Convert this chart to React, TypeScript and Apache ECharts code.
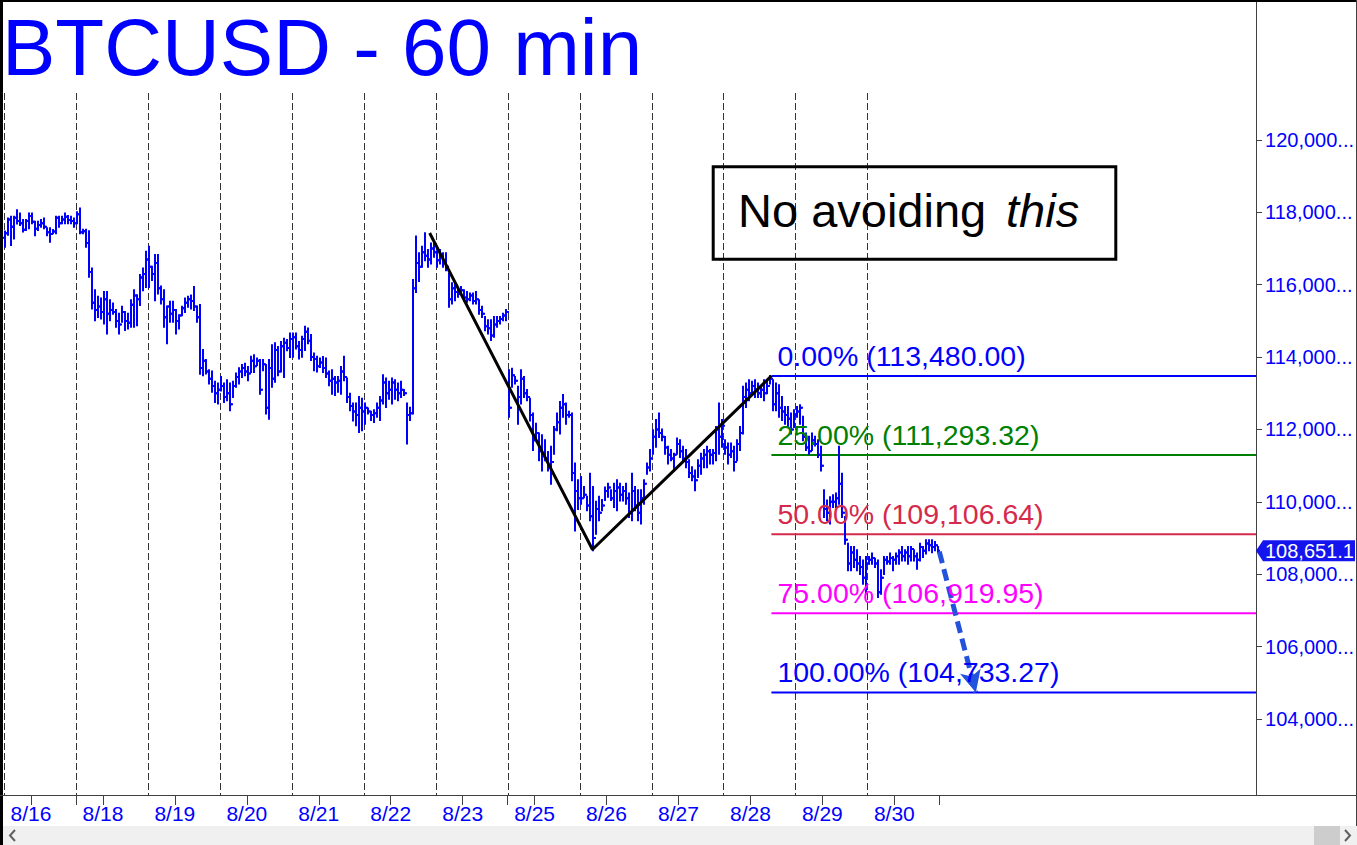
import React, { useEffect, useRef } from "react";
import * as echarts from "echarts";

// ---- Hourly bars, one array per session day: [high, low, close] ----
const aug16 = [
  [117470, 117050, 117420], [117830, 117380, 117800], [117880, 117100, 117600], [117880, 117280, 117850],
  [118060, 117690, 117760], [117970, 117650, 117700], [117790, 117470, 117520], [117790, 117510, 117760],
  [117970, 117560, 117900], [117970, 117700, 117740], [117740, 117370, 117550], [117740, 117510, 117650],
  [117790, 117600, 117700], [117830, 117560, 117600], [117560, 117370, 117450], [117560, 117190, 117400],
  [117510, 117420, 117470], [117880, 117420, 117850], [117880, 117600, 117700], [117880, 117700, 117800],
  [117970, 117700, 117880], [117900, 117700, 117790], [117880, 117700, 117760], [117830, 117600, 117700],
];
const aug18 = [
  [118000, 117700, 117950], [118110, 117420, 117450], [117520, 117420, 117480], [117520, 117050, 117150],
  [117480, 116220, 116350], [116450, 115340, 115500], [115850, 115020, 115300], [115670, 115110, 115400],
  [115620, 115070, 115250], [115800, 114930, 115600], [115800, 114650, 115200], [115570, 115020, 115300],
  [115480, 115200, 115250], [115300, 114840, 115000], [115200, 114650, 114900], [115390, 114980, 115250],
  [115250, 114750, 115000], [115200, 114790, 114950], [115570, 114840, 115450], [115850, 114840, 115700],
  [115710, 114880, 115600], [116270, 115440, 116200], [116450, 115850, 116300], [116910, 115940, 116700],
];
const aug19 = [
  [117050, 115940, 116500], [116500, 116130, 116300], [116820, 115570, 116600], [116820, 115760, 115900],
  [115950, 115480, 115600], [115850, 114840, 115100], [115400, 114380, 115400], [115530, 114980, 115200],
  [115530, 114980, 115300], [115300, 114650, 115000], [115160, 114790, 115150], [115390, 115160, 115350],
  [115620, 115250, 115500], [115670, 115390, 115600], [115700, 115340, 115550], [115940, 115300, 115400],
  [115400, 114980, 115100], [115440, 113540, 113700], [114200, 113500, 113900], [113920, 113550, 113600],
  [113640, 113270, 113400], [113600, 113040, 113200], [113320, 112760, 113000], [113270, 112720, 113100],
];
const aug20 = [
  [113450, 113080, 113200], [113270, 112760, 112900], [113360, 112810, 113000], [113270, 112530, 112700],
  [113320, 112900, 113200], [113550, 113180, 113450], [113690, 113270, 113600], [113780, 113450, 113700],
  [113820, 113500, 113600], [113730, 113360, 113550], [114010, 113590, 113900], [114050, 113590, 113750],
  [113960, 113780, 113900], [113920, 112990, 113100], [113920, 113640, 113800], [113780, 112440, 112600],
  [113920, 112300, 113700], [114330, 113180, 113400], [114380, 113320, 114200], [114280, 113500, 113600],
  [114420, 113600, 114300], [114510, 113450, 114400], [114470, 114190, 114250], [114650, 114000, 114500],
];
const aug21 = [
  [114650, 114010, 114550], [114650, 114240, 114300], [114420, 113960, 114200], [114560, 114010, 114500],
  [114840, 114200, 114700], [114790, 114380, 114450], [114610, 113920, 114000], [114100, 113640, 113950],
  [114010, 113600, 113750], [113960, 113730, 113850], [114000, 113590, 113700], [113960, 113450, 113550],
  [113600, 113220, 113350], [113640, 112990, 113400], [113450, 112950, 113300], [113450, 113040, 113350],
  [113730, 112990, 113600], [114010, 113360, 113450], [113410, 112760, 112900], [112990, 112530, 112650],
  [112720, 112250, 112500], [112720, 112120, 112400], [112900, 111930, 112600], [112850, 111980, 112500],
];
const aug22 = [
  [112720, 112160, 112600], [112580, 112440, 112500], [112490, 112260, 112400], [112530, 112210, 112450],
  [112720, 112350, 112600], [112900, 112260, 112800], [113500, 112720, 113300], [113410, 112620, 113000],
  [113320, 112850, 113100], [113410, 112720, 113300], [113360, 112850, 113100], [113270, 112810, 113000],
  [113320, 112900, 113100], [113090, 112950, 113000], [112720, 111610, 112400], [112600, 112260, 112450],
  [116130, 112440, 115900], [117330, 115800, 116600], [116870, 116100, 116500], [117050, 116500, 116900],
  [117420, 116680, 116800], [116960, 116500, 116700], [117140, 116590, 117000], [117140, 116770, 116900],
];
const aug23 = [
  [116960, 116500, 116680], [116960, 116590, 116800], [116870, 116500, 116600], [116870, 116400, 116500],
  [116310, 115390, 115600], [116040, 115480, 115900], [116040, 115570, 115800], [115900, 115670, 115750],
  [115940, 115760, 115850], [115850, 115570, 115650], [115800, 115530, 115600], [115760, 115570, 115700],
  [115760, 115480, 115550], [115800, 115480, 115600], [115570, 115200, 115300], [115390, 115110, 115200],
  [115110, 114740, 114850], [115020, 114650, 114800], [115020, 114470, 114600], [115110, 114560, 114900],
  [115110, 114840, 115000], [115110, 114930, 115050], [115200, 115020, 115150], [115300, 115020, 115250],
];
const aug25 = [
  [113640, 112350, 112600], [113680, 113180, 113500], [113450, 113270, 113350], [113180, 112160, 112900],
  [113640, 112720, 113400], [113450, 112900, 113000], [113090, 112810, 112900], [112850, 112250, 112400],
  [112440, 111430, 111700], [112160, 111790, 111900], [111890, 111150, 111400], [111840, 110870, 111300],
  [111700, 111150, 111200], [111380, 110870, 111000], [111520, 110500, 111100], [112070, 111330, 112000],
  [112440, 111980, 112200], [112760, 111890, 112600], [112950, 112350, 112700], [112720, 112160, 112400],
  [112490, 112350, 112400], [112440, 110600, 110800], [111060, 109210, 110300], [110600, 109800, 110100],
];
const aug26 = [
  [110690, 109950, 110100], [110410, 110130, 110200], [110140, 109770, 109900], [110780, 109490, 109600],
  [110410, 108660, 109000], [110000, 109120, 109800], [110140, 109490, 109700], [110050, 109770, 109900],
  [110400, 110050, 110300], [110500, 110140, 110400], [110320, 110050, 110100], [110500, 109860, 110300],
  [110600, 109770, 110400], [110500, 110040, 110200], [110410, 110040, 110300], [110500, 109950, 110100],
  [110230, 109580, 109700], [110780, 109490, 110300], [110410, 109770, 109900], [110320, 109490, 109700],
  [110320, 109400, 110100], [110600, 109950, 110500], [111060, 110780, 110950], [111430, 110870, 111200],
];
const aug27 = [
  [111980, 111330, 111800], [112260, 111520, 112000], [112440, 111790, 111900], [112000, 111700, 111800],
  [111790, 111330, 111500], [111520, 111060, 111300], [111430, 111150, 111200], [111330, 110870, 111300],
  [111750, 111330, 111600], [111700, 111240, 111400], [111520, 111150, 111200], [111430, 110960, 111100],
  [111150, 110690, 110800], [110960, 110600, 110700], [110870, 110320, 110600], [111150, 110690, 111000],
  [111330, 110780, 111200], [111430, 110960, 111300], [111520, 110960, 111400], [111430, 111060, 111300],
  [111430, 111060, 111350], [112070, 111150, 112000], [112720, 111330, 111800], [112260, 111520, 112100],
];
const aug28 = [
  [111700, 111330, 111500], [111610, 111060, 111300], [111610, 111240, 111400], [111520, 110870, 111100],
  [111700, 111150, 111600], [112070, 111430, 111900], [113180, 111890, 112900], [113270, 112620, 113100],
  [113360, 112810, 113000], [113320, 112990, 113200], [113360, 112900, 113100], [113270, 112900, 113000],
  [113180, 112900, 113100], [113360, 112810, 113000], [113360, 113000, 113200], [113480, 113270, 113400],
  [113360, 112530, 112700], [113270, 112530, 113000], [113220, 112350, 112600], [112900, 112260, 112500],
  [112620, 112160, 112400], [112620, 112070, 112300], [112440, 111890, 112000], [112530, 112070, 112400],
];
const aug29 = [
  [112620, 112350, 112500], [112670, 112160, 112600], [112350, 111700, 111800], [111890, 111430, 111500],
  [111800, 111330, 111400], [111890, 111430, 111700], [111800, 111560, 111600], [111700, 111240, 111300],
  [111520, 110870, 111000], [110320, 109580, 109800], [110040, 109490, 109700], [110130, 109400, 110000],
  [110180, 109860, 110000], [110230, 109860, 110100], [111520, 109950, 110500], [110780, 109580, 109700],
  [109580, 108840, 108950], [108840, 108110, 108300], [108750, 108110, 108600], [108750, 108200, 108400],
  [108660, 108110, 108300], [108480, 108010, 108200], [108380, 107740, 107900], [108480, 107460, 108300],
];
const aug30 = [
  [108480, 108290, 108400], [108570, 108290, 108450], [108430, 108200, 108300], [108380, 107370, 107500],
  [108110, 107460, 107900], [108480, 108010, 108400], [108480, 108290, 108350], [108570, 108290, 108450],
  [108480, 108110, 108400], [108570, 108290, 108500], [108660, 108290, 108600], [108750, 108380, 108500],
  [108660, 108380, 108600], [108750, 108290, 108500], [108750, 108380, 108700], [108660, 108380, 108500],
  [108570, 108150, 108400], [108840, 108380, 108750], [108750, 108480, 108650], [108940, 108570, 108850],
  [108940, 108660, 108800], [108940, 108610, 108750], [108890, 108660, 108800], [108750, 108610, 108651.1],
];

const sessions = [aug16, aug18, aug19, aug20, aug21, aug22, aug23, aug25, aug26, aug27, aug28, aug29, aug30];
const dayLabels = ["8/16", "8/18", "8/19", "8/20", "8/21", "8/22", "8/23", "8/25", "8/26", "8/27", "8/28", "8/29", "8/30"];
const firstOpen = 117300;
const lastPrice = 108651.1;

const priceTicks = [104000, 106000, 108000, 110000, 112000, 114000, 116000, 118000, 120000];
const fibLevels = [113480.0, 111293.32, 109106.64, 106919.95, 104733.27];
const fibNames = ["0.00%", "25.00%", "50.00%", "75.00%", "100.00%"];
const fibColors = ["#0000ff", "#008000", "#d42a4c", "#ff00ff", "#0000ff"];
const fibStartBar = 256;
const swingPoints = [[142, 117430], [196.3, 108683.27], [256, 113480]];
const projection = [[312, 108625], [324.2, 104733.27]];
const gapTicks = [24, 168, 312];

// ---- layout ----
const W = 1357;
const H = 845;
const GRID_LEFT = 4;
const GRID_RIGHT = 100;
const GRID_BOTTOM = 50;
const PX_PER_BAR = 3;
const BARS_PER_DAY = 24;
const LABEL_HOUR = 9;
const Y_MIN = 101900;
const Y_MAX = 123868;
const X_MAX = (W - GRID_LEFT - GRID_RIGHT) / PX_PER_BAR;
const FONT = '"Liberation Sans", Arial, Helvetica, sans-serif';
const BLUE = "#0000ff";
const AXIS = "#404040";

function fmt(v: number, d: number) {
  const s = v.toFixed(d);
  const parts = s.split(".");
  const g = parts[0].replace(/\B(?=(\d{3})+(?!\d))/g, ",");
  return parts[1] ? g + "." + parts[1] : g;
}

export default function App() {
  const ref = useRef<HTMLDivElement>(null);

  useEffect(() => {
    document.body.style.margin = "0";
    const chart = echarts.init(ref.current!, null, { renderer: "svg" });

    const bars = sessions.flat();
    const ohlc = bars.map((b, i) => [i + 0.5, i === 0 ? firstOpen : bars[i - 1][2], b[0], b[1], b[2]]);
    const dayStarts = dayLabels.map((_, k) => [k * BARS_PER_DAY, 110000]);
    const labelPos = dayLabels.map((_, k) => k * BARS_PER_DAY + LABEL_HOUR);
    const labelMap: Record<string, string> = {};
    labelPos.forEach((p, k) => (labelMap[String(p)] = dayLabels[k]));

    const fibSeries = fibLevels.map((lvl, k) => ({
      type: "line",
      data: [[fibStartBar, lvl], [X_MAX, lvl]],
      showSymbol: false,
      symbol: "none",
      silent: true,
      lineStyle: { color: fibColors[k], width: 2 },
      z: 3,
    }));

    const option: any = {
      animation: false,
      grid: { left: GRID_LEFT, right: GRID_RIGHT, top: 0, bottom: GRID_BOTTOM },
      xAxis: {
        type: "value",
        min: 0,
        max: X_MAX,
        axisLine: { show: false, onZero: false },
        splitLine: { show: false },
        axisTick: { show: true, length: 10, lineStyle: { color: AXIS }, customValues: [...labelPos, ...gapTicks] },
        axisLabel: {
          customValues: labelPos,
          formatter: (v: number) => labelMap[String(v)] || "",
          color: BLUE,
          fontSize: 21,
          fontFamily: FONT,
          margin: 8,
        },
      },
      yAxis: {
        type: "value",
        position: "right",
        min: Y_MIN,
        max: Y_MAX,
        axisLine: { show: true, onZero: false, lineStyle: { color: AXIS } },
        axisTick: { show: true, length: 6, customValues: priceTicks, lineStyle: { color: AXIS } },
        axisLabel: {
          customValues: priceTicks,
          formatter: (v: number) => fmt(v, 0) + "...",
          color: BLUE,
          fontSize: 20,
          fontFamily: FONT,
          margin: 9,
        },
        splitLine: { show: false },
      },
      series: [
        {
          type: "custom",
          silent: true,
          data: dayStarts,
          encode: { x: 0, y: 1 },
          z: 1,
          renderItem: (params: any, api: any) => {
            const x = Math.round(api.coord([api.value(0), 110000])[0]) + 0.5;
            const cs = params.coordSys;
            return {
              type: "line",
              shape: { x1: x, y1: 93, x2: x, y2: cs.y + cs.height },
              style: { stroke: "#333333", lineWidth: 1, lineDash: [7, 3] },
            };
          },
        },
        ...fibSeries,
        {
          type: "custom",
          silent: true,
          data: ohlc,
          encode: { x: 0, y: [1, 2, 3, 4] },
          z: 4,
          renderItem: (params: any, api: any) => {
            const x = api.value(0);
            const pO = api.coord([x, api.value(1)]);
            const pH = api.coord([x, api.value(2)]);
            const pL = api.coord([x, api.value(3)]);
            const pC = api.coord([x, api.value(4)]);
            const cx = Math.round(pH[0]);
            const st = { stroke: BLUE, lineWidth: 2 };
            return {
              type: "group",
              children: [
                { type: "line", shape: { x1: cx, y1: pH[1] - 1, x2: cx, y2: pL[1] + 1 }, style: st },
                { type: "line", shape: { x1: cx - 2, y1: pO[1], x2: cx, y2: pO[1] }, style: st },
                { type: "line", shape: { x1: cx, y1: pC[1], x2: cx + 2, y2: pC[1] }, style: st },
              ],
            };
          },
        },
        {
          type: "line",
          data: swingPoints,
          showSymbol: false,
          symbol: "none",
          silent: true,
          lineStyle: { color: "#000000", width: 3 },
          z: 6,
          markLine: {
            silent: true,
            symbol: ["none", "arrow"],
            symbolSize: [16, 22],
            label: { show: false },
            lineStyle: { color: "#2352dc", width: 5, type: [12, 6] },
            data: [[{ coord: projection[0] }, { coord: projection[1] }]],
          },
        },
      ],
    };
    chart.setOption(option);

    const yPix = (v: number) => chart.convertToPixel({ yAxisIndex: 0 }, v) as number;
    const xPix = (v: number) => chart.convertToPixel({ xAxisIndex: 0 }, v) as number;

    const fibLabels = fibLevels.map((lvl, k) => ({
      type: "text",
      x: xPix(fibStartBar) + 6,
      y: yPix(lvl) - 20,
      z: 20,
      style: {
        text: `${fibNames[k]} (${fmt(lvl, 2)})`,
        fill: fibColors[k],
        fontSize: 28.5,
        fontFamily: FONT,
        align: "left",
        verticalAlign: "middle",
      },
    }));

    const py = yPix(lastPrice);
    const graphics: any[] = [
      // scroll bar
      { type: "rect", shape: { x: 0, y: 826, width: W, height: 19 }, style: { fill: "#f0f0f0" }, z: 30 },
      { type: "rect", shape: { x: 1314, y: 826, width: 26, height: 19 }, style: { fill: "#cdcdcd" }, z: 31 },
      { type: "polyline", shape: { points: [[15, 830], [10, 835.5], [15, 841]] }, style: { stroke: "#606060", lineWidth: 2, fill: null }, z: 31 },
      { type: "polyline", shape: { points: [[1345, 830], [1350, 835.5], [1345, 841]] }, style: { stroke: "#606060", lineWidth: 2, fill: null }, z: 31 },
      // frame
      { type: "rect", shape: { x: 0, y: 0, width: 3, height: H }, style: { fill: "#000000" }, z: 32 },
      { type: "rect", shape: { x: 0, y: 0, width: W, height: 2 }, style: { fill: "#000000" }, z: 32 },
      { type: "line", shape: { x1: W - 0.5, y1: 0, x2: W - 0.5, y2: 826 }, style: { stroke: "#404040", lineWidth: 1 }, z: 32 },
      { type: "line", shape: { x1: 0, y1: 795.5, x2: W, y2: 795.5 }, style: { stroke: AXIS, lineWidth: 1 }, z: 32 },
      // title
      {
        type: "text",
        x: 2,
        y: 47,
        z: 20,
        style: { text: "BTCUSD - 60 min", fill: BLUE, fontSize: 80, fontFamily: FONT, align: "left", verticalAlign: "middle" },
      },
      // annotation box
      {
        type: "rect",
        shape: { x: 713.2, y: 166.7, width: 402.6, height: 92.6 },
        style: { fill: null, stroke: "#000000", lineWidth: 3 },
        z: 20,
      },
      {
        type: "text",
        x: 738,
        y: 210,
        z: 21,
        style: { text: "No avoiding", fill: "#000000", fontSize: 47, fontFamily: FONT, align: "left", verticalAlign: "middle" },
      },
      {
        type: "text",
        x: 1006,
        y: 210,
        z: 21,
        style: { text: "this", fill: "#000000", fontSize: 47, fontStyle: "italic", fontFamily: FONT, align: "left", verticalAlign: "middle" },
      },
      ...fibLabels,
      // last price tag
      {
        type: "polygon",
        shape: { points: [[1256, py], [1263, py - 10.5], [1355, py - 10.5], [1355, py + 10.5], [1263, py + 10.5]] },
        style: { fill: "#1414ee" },
        z: 25,
      },
      {
        type: "text",
        x: 1265,
        y: py,
        z: 26,
        style: { text: fmt(lastPrice, 1), fill: "#ffffff", fontSize: 20, fontFamily: FONT, align: "left", verticalAlign: "middle" },
      },
    ];
    chart.setOption({ graphic: graphics });

    return () => chart.dispose();
  }, []);

  return <div ref={ref} style={{ width: W, height: H, background: "#ffffff" }} />;
}
